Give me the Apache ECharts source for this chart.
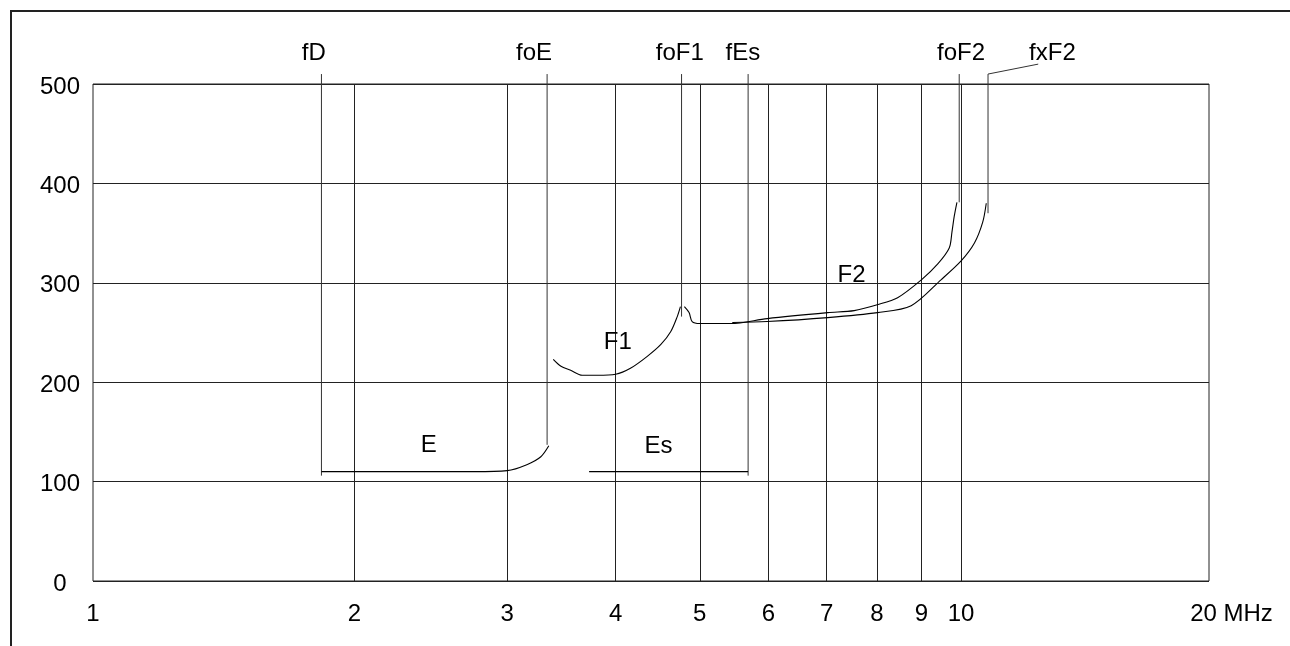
<!DOCTYPE html>
<html>
<head>
<meta charset="utf-8">
<script src="https://cdn.jsdelivr.net/npm/echarts@6/dist/echarts.min.js"></script>
<style>
  html, body { margin: 0; padding: 0; background: #fff; }
  #frame {
    position: absolute; left: 10px; top: 10px; width: 1280px; height: 636px;
    border-left: 2px solid #222; border-top: 2px solid #222; box-sizing: border-box;
  }
  #chart { position: absolute; left: 0; top: 0; width: 1290px; height: 646px; }
</style>
</head>
<body>
<div id="frame"></div>
<div id="chart"></div>
<script>
// Frequency grid (MHz, log scale) and virtual-height grid (km)
const freqTicks = [1, 2, 3, 4, 5, 6, 7, 8, 9, 10];
const freqEnd = 19.3;
const freqEndLabel = '20 MHz';
const heightTicks = [0, 100, 200, 300, 400, 500];

// Ionogram traces: [frequency MHz, virtual height km]
const traceE = [[1.833, 110], [2.4, 110], [2.75, 110], [3.0, 111], [3.16, 117], [3.28, 125], [3.35, 136]];
const traceEs = [[3.728, 110], [5.684, 110]];
const traceF1 = [[3.39, 223], [3.46, 216], [3.55, 212], [3.66, 207], [3.81, 207], [4.0, 208], [4.16, 214],
                 [4.35, 226], [4.51, 238], [4.63, 251], [4.71, 266], [4.75, 276]];
const traceF2o = [[4.80, 276], [4.86, 270], [4.90, 261], [5.0, 259], [5.43, 259], [5.98, 264], [7.02, 270],
                  [7.53, 272], [8.01, 278], [8.45, 285], [9.0, 303], [9.40, 319], [9.69, 335], [9.76, 351],
                  [9.82, 367], [9.89, 381]];
const traceF2x = [[5.45, 260], [5.98, 261], [7.02, 265], [8.01, 270], [8.76, 277], [9.48, 303], [10.0, 322],
                  [10.36, 340], [10.59, 361], [10.69, 380]];

// Critical-frequency markers
const markerNames = ['fD', 'foE', 'foF1', 'fEs', 'foF2', 'fxF2'];
const markerFreqs = [1.833, 3.335, 4.764, 5.684, 9.95, 10.74];
const markerBottoms = [106, 137, 266, 106, 381, 370];
const markerTop = 510;
const fxF2Leader = [12.27, 520];
const markerLabelFreqs = [1.796, 3.221, 4.741, 5.605, 10.0, 12.74];
const markerLabelHeight = 530.5;

// Layer names written next to their traces
const layerNames = ['E', 'Es', 'F1', 'F2'];
const layerLabelFreqs = [2.437, 4.482, 4.022, 7.477];
const layerLabelHeights = [136.5, 135, 240, 307];

const FONT = "'Liberation Sans', Arial, Helvetica, sans-serif";
const INK = '#000';
const GRID = '#222';

const chart = echarts.init(document.getElementById('chart'), null, { renderer: 'canvas' });

function traceSeries(data) {
  return {
    type: 'line', data: data, symbol: 'none', smooth: 0.3, clip: false, silent: true,
    lineStyle: { color: INK, width: 1.1 }, z: 5
  };
}

const markerSeries = markerNames.map((name, i) => {
  const pts = [[markerFreqs[i], markerBottoms[i]], [markerFreqs[i], markerTop]];
  if (name === 'fxF2') pts.push(fxF2Leader);
  return {
    type: 'line', name: name, data: pts, symbol: 'none', clip: false, silent: true,
    lineStyle: { color: '#333', width: 1 }, z: 4
  };
});

const textLabels = markerNames.map((n, i) => [markerLabelFreqs[i], markerLabelHeight, n])
  .concat(layerNames.map((n, i) => [layerLabelFreqs[i], layerLabelHeights[i], n]));

chart.setOption({
  animation: false,
  backgroundColor: 'transparent',
  textStyle: { fontFamily: FONT },
  grid: { left: 93, right: 81, top: 84, bottom: 65, show: true, borderColor: GRID, borderWidth: 1 },
  xAxis: {
    type: 'log', logBase: 10, min: freqTicks[0], max: freqEnd,
    axisLine: { show: false }, axisTick: { show: false }, splitLine: { show: false },
    axisLabel: {
      customValues: freqTicks.concat([freqEnd]),
      fontSize: 24, color: INK, fontFamily: FONT, margin: 21,
      formatter: v => (Math.abs(v - freqEnd) < 1e-6 ? '{end|' + freqEndLabel + '}' : String(Math.round(v))),
      rich: { end: { fontSize: 24, color: INK, fontFamily: FONT, padding: [0, 0, 0, 45] } }
    }
  },
  yAxis: {
    type: 'value', min: heightTicks[0], max: heightTicks[heightTicks.length - 1], interval: 100,
    axisLine: { show: false }, axisTick: { show: false },
    splitLine: { show: true, lineStyle: { color: GRID, width: 1 } },
    axisLabel: {
      fontSize: 24, color: INK, fontFamily: FONT, align: 'center', margin: 33,
      verticalAlign: 'top', lineHeight: 6
    }
  },
  series: [
    {
      type: 'line', data: [], silent: true,
      markLine: {
        silent: true, symbol: 'none', label: { show: false },
        lineStyle: { color: GRID, width: 1, type: 'solid' },
        data: freqTicks.slice(1).map(v => ({ xAxis: v }))
      }
    },
    traceSeries(traceE),
    traceSeries(traceEs),
    traceSeries(traceF1),
    traceSeries(traceF2o),
    traceSeries(traceF2x),
    ...markerSeries,
    {
      type: 'scatter', data: textLabels, symbolSize: 0, clip: false, silent: true, z: 6,
      itemStyle: { color: INK, opacity: 1 },
      label: {
        show: true, position: 'inside', formatter: p => p.data[2],
        fontSize: 24, color: INK, fontFamily: FONT, opacity: 1,
        textBorderWidth: 0, textBorderColor: 'transparent'
      }
    }
  ]
});
</script>
</body>
</html>
